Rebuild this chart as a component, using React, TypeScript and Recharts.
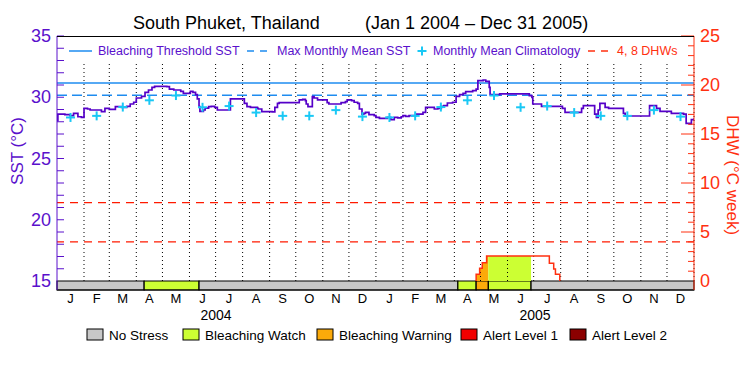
import React from "react";
import {
	Area,
	ComposedChart,
	Line,
	ReferenceArea,
	ReferenceLine,
	XAxis,
	YAxis,
} from "recharts";

const MONTH_LETTERS = ["J", "F", "M", "A", "M", "J", "J", "A", "S", "O", "N", "D"];
// day index (0 = Jan 1 2004) of every month start, last one = Dec 31 2005
const MONTH_STARTS = [
	0, 31, 60, 91, 121, 152, 182, 213, 244, 274, 305, 335, 366, 397, 425, 456, 486, 517, 547, 578,
	609, 639, 670, 700, 731,
];
const YEAR_LABELS = ["2004", "2005"];
const YEAR_LABEL_X = [216, 535];

const BLEACHING_THRESHOLD = 31.16;
const MAX_MONTHLY_MEAN = 30.16;
const DHW_LEVELS = [4, 8];

// monthly mean climatology, Jan..Dec
const CLIMATOLOGY = [28.35, 28.48, 29.2, 29.75, 30.14, 29.18, 29.28, 28.75, 28.48, 28.48, 28.95, 28.42];

// twice-weekly SST (step series)
const SST_DAYS = [
	0, 1, 9, 15, 19, 24, 28, 31, 35, 38, 51, 55, 60, 67, 74, 80, 84, 88, 91, 97, 101, 105, 109, 112,
	126, 129, 134, 142, 145, 153, 156, 159, 161, 163, 164, 168, 170, 174, 177, 181, 184, 199, 215, 218,
	222, 230, 231, 235, 247, 250, 253, 255, 278, 282, 285, 286, 288, 293, 295, 299, 310, 312, 326, 331,
	333, 338, 341, 345, 347, 350, 352, 354, 358, 364, 366, 370, 379, 383, 387, 391, 395, 397, 400, 404,
	412, 420, 423, 433, 437, 441, 444, 448, 454, 458, 462, 466, 469, 477, 481, 483, 489, 492, 496, 497,
	508, 542, 545, 546, 556, 580, 583, 602, 604, 617, 619, 621, 623, 629, 633, 650, 652, 680, 688, 692,
	705, 719, 722, 726, 728, 731,
];
const SST_VALUES = [
	28.1, 28.63, 28.58, 28.5, 28.69, 28.41, 28.36, 29.1, 29.04, 28.96, 28.82, 29.1, 29.01, 29.23, 29.18,
	29.26, 29.45, 29.59, 29.94, 30.07, 30.4, 30.59, 30.81, 30.89, 30.86, 30.67, 30.59, 30.48, 30.32,
	30.48, 30.4, 30.21, 29.86, 29.23, 28.85, 28.96, 29.12, 29.23, 29.26, 29.18, 28.96, 29.86, 29.5,
	29.23, 29.18, 29.1, 29.04, 28.82, 28.8, 29.18, 29.5, 29.56, 29.78, 29.83, 29.72, 29.45, 29.23, 30.05,
	29.94, 29.78, 29.56, 29.45, 29.56, 29.64, 29.78, 29.72, 29.59, 29.5, 29.04, 28.63, 28.69, 28.77,
	28.58, 28.5, 28.36, 28.28, 28.36, 28.17, 28.36, 28.31, 28.41, 28.5, 28.44, 28.5, 28.63, 28.77, 29.18,
	29.04, 29.1, 29.26, 29.31, 29.53, 29.59, 30.07, 30.21, 30.32, 30.46, 30.54, 30.67, 31.35, 31.41,
	31.3, 30.81, 30.21, 30.27, 30.13, 29.99, 29.45, 29.26, 29.1, 28.77, 29.1, 29.31, 28.63, 28.36, 28.96,
	29.5, 29.18, 29.1, 28.69, 28.47, 29.31, 29.1, 28.85, 28.69, 28.63, 27.87, 27.82, 28.17, 28.28,
];

// degree heating weeks (only the non-zero episode)
const DHW_DAYS = [481, 481, 485, 488, 493, 565, 570, 572, 577];
const DHW_VALUES = [0, 0.68, 1.29, 1.87, 2.55, 1.8, 1.22, 0.68, 0];

// stress level bar
const STATUS_STARTS = [0, 100, 163, 460, 481, 495, 544];
const STATUS_ENDS = [100, 163, 460, 481, 495, 544, 731];
const STATUS_LEVELS = [0, 1, 0, 1, 2, 1, 0];

const STATUS_NAMES = ["No Stress", "Bleaching Watch", "Bleaching Warning", "Alert Level 1", "Alert Level 2"];
const STATUS_COLORS = ["#c8c8c8", "#ccff33", "#fbaa0a", "#f20000", "#8b0000"];
const LEGEND_X = [87, 183, 317, 461, 570];

const PURPLE = "#5a10cc";
const BLUE = "#1e8cf0";
const CYAN = "#19c8f5";
const RED = "#ff3010";
const FONT = "'Liberation Sans', Arial, sans-serif";

// axes bottoms extend 9px under SST 15 / DHW 0 to hold the status bar
const SST_MIN = 15 - 9 / 12.25;
const DHW_MIN = -9 / 9.8;

const MONTH_MID = MONTH_STARTS.slice(0, -1).map((d, i) => (d + MONTH_STARTS[i + 1]) / 2);

const sstData = SST_DAYS.map((d, i) => ({ day: d, sst: SST_VALUES[i] }));
const climData = MONTH_MID.map((d, i) => ({ day: d, clim: CLIMATOLOGY[i % 12] }));
const dhwData = DHW_DAYS.map((d, i) => ({ day: d, dhw: DHW_VALUES[i] }));

function dhwAt(day: number) {
	let v = 0;
	DHW_DAYS.forEach((d, i) => {
		if (d <= day) v = DHW_VALUES[i];
	});
	return v;
}

function clipDhw(start: number, end: number) {
	const pts = [{ day: start, dhw: dhwAt(start) }];
	DHW_DAYS.forEach((d, i) => {
		if (d > start && d < end) pts.push({ day: d, dhw: DHW_VALUES[i] });
	});
	pts.push({ day: end, dhw: dhwAt(end) });
	return pts;
}

const SstTick = (props: any) => {
	const { x, y, payload } = props;
	const v = payload.value;
	return (
		<g>
			{v !== 15 && <line x1={x} x2={x + 7} y1={y} y2={y} stroke={PURPLE} />}
			{v % 5 === 0 && (
				<text x={x - 6} y={y + 6} textAnchor="end" fill={PURPLE} fontSize={18} fontFamily={FONT}>
					{v}
				</text>
			)}
		</g>
	);
};

const DhwTick = (props: any) => {
	const { x, y, payload } = props;
	const v = payload.value;
	const major = v % 5 === 0;
	return (
		<g>
			{v !== 0 && <line x1={x} x2={x - (major ? 13 : 6)} y1={y} y2={y} stroke={RED} />}
			{major && (
				<text x={x + 6} y={y + 6} textAnchor="start" fill={RED} fontSize={18} fontFamily={FONT}>
					{v}
				</text>
			)}
		</g>
	);
};

const MonthTick = (props: any) => {
	const { x, y, payload } = props;
	const i = MONTH_MID.indexOf(payload.value);
	return (
		<text x={x} y={y + 13} textAnchor="middle" fill="#000" fontSize={13} fontFamily={FONT}>
			{MONTH_LETTERS[i % 12]}
		</text>
	);
};

const PlusDot = (props: any) => {
	const { cx, cy } = props;
	if (cx == null || cy == null) return null;
	return (
		<g>
			<line x1={cx - 4.5} x2={cx + 4.5} y1={cy} y2={cy} stroke={CYAN} strokeWidth={2} />
			<line x1={cx} x2={cx} y1={cy - 4.5} y2={cy + 4.5} stroke={CYAN} strokeWidth={2} />
		</g>
	);
};

export default function App() {
	const sstTicks = Array.from({ length: 21 }, (_, i) => 15 + i);
	const dhwTicks = Array.from({ length: 26 }, (_, i) => i);

	return (
		<div style={{ position: "fixed", left: 0, top: 0, width: 750, height: 375, background: "#fff" }}>
			<ComposedChart width={750} height={375} margin={{ top: 36, right: 0, bottom: 45, left: 0 }}>
				<XAxis
					dataKey="day"
					type="number"
					domain={[0, 731]}
					ticks={MONTH_MID}
					interval={0}
					tick={<MonthTick />}
					tickLine={false}
					tickSize={0}
					tickMargin={0}
					height={40}
					axisLine={{ stroke: "#000" }}
					allowDataOverflow
				/>
				<YAxis
					yAxisId="sst"
					type="number"
					domain={[SST_MIN, 35]}
					ticks={sstTicks}
					interval={0}
					tick={<SstTick />}
					tickLine={false}
					tickSize={0}
					tickMargin={0}
					width={57}
					axisLine={{ stroke: PURPLE }}
					allowDataOverflow
				/>
				<YAxis
					yAxisId="dhw"
					orientation="right"
					type="number"
					domain={[DHW_MIN, 25]}
					ticks={dhwTicks}
					interval={0}
					tick={<DhwTick />}
					tickLine={false}
					tickSize={0}
					tickMargin={0}
					width={56}
					axisLine={{ stroke: RED }}
					allowDataOverflow
				/>

				{MONTH_STARTS.slice(1).map((d) => (
					<ReferenceLine
						key={`m${d}`}
						yAxisId="sst"
						segment={[
							{ x: d, y: 15 },
							{ x: d, y: 32.8 },
						]}
						stroke="#000"
						strokeDasharray="1 3"
					/>
				))}

				<ReferenceLine yAxisId="sst" y={BLEACHING_THRESHOLD} stroke={BLUE} strokeWidth={1.5} />
				<ReferenceLine yAxisId="sst" y={MAX_MONTHLY_MEAN} stroke={BLUE} strokeWidth={1.5} strokeDasharray="10 5" />
				{DHW_LEVELS.map((l) => (
					<ReferenceLine key={`d${l}`} yAxisId="dhw" y={l} stroke="#ff1a00" strokeWidth={1.2} strokeDasharray="8 6" />
				))}

				{STATUS_STARTS.map((s, i) => (
					<ReferenceArea
						key={`s${i}`}
						yAxisId="sst"
						x1={s}
						x2={STATUS_ENDS[i]}
						y1={SST_MIN}
						y2={15}
						fill={STATUS_COLORS[STATUS_LEVELS[i]]}
						fillOpacity={1}
						stroke="#000"
						strokeWidth={1.2}
					/>
				))}

				{STATUS_STARTS.map((s, i) =>
					STATUS_LEVELS[i] > 0 ? (
						<Area
							key={`a${i}`}
							yAxisId="dhw"
							data={clipDhw(s, STATUS_ENDS[i])}
							dataKey="dhw"
							type="stepAfter"
							baseValue={0}
							fill={STATUS_COLORS[STATUS_LEVELS[i]]}
							fillOpacity={1}
							stroke="none"
							isAnimationActive={false}
						/>
					) : null,
				)}

				<Line
					yAxisId="dhw"
					data={dhwData}
					dataKey="dhw"
					type="stepAfter"
					stroke={RED}
					strokeWidth={1.5}
					dot={false}
					activeDot={false}
					isAnimationActive={false}
				/>

				<Line
					yAxisId="sst"
					data={sstData}
					dataKey="sst"
					type="stepAfter"
					stroke="#5500c8"
					strokeWidth={1.7}
					dot={false}
					activeDot={false}
					isAnimationActive={false}
				/>

				<Line
					yAxisId="sst"
					data={climData}
					dataKey="clim"
					stroke="none"
					dot={(p: any) => <PlusDot key={`c${p.index}`} {...p} />}
					activeDot={false}
					isAnimationActive={false}
				/>
			</ComposedChart>

			<svg
				width={750}
				height={375}
				style={{ position: "absolute", left: 0, top: 0, pointerEvents: "none" }}
				fontFamily={FONT}
			>
				<line x1={57} x2={694} y1={36.5} y2={36.5} stroke="#000" />

				<text x={133} y={29} fontSize={18} fill="#000">
					South Phuket, Thailand
				</text>
				<text x={365} y={29} fontSize={18} fill="#000">
					(Jan 1 2004 – Dec 31 2005)
				</text>

				<line x1={69} x2={92} y1={51} y2={51} stroke={BLUE} strokeWidth={1.5} />
				<text x={98} y={55} fontSize={12.5} fill={PURPLE}>
					Bleaching Threshold SST
				</text>
				<line x1={247} x2={267} y1={51} y2={51} stroke={BLUE} strokeWidth={1.5} strokeDasharray="7 6" />
				<text x={277} y={55} fontSize={12.5} fill={PURPLE}>
					Max Monthly Mean SST
				</text>
				<PlusDot cx={422} cy={51} />
				<text x={433} y={55} fontSize={12.5} fill={PURPLE}>
					Monthly Mean Climatology
				</text>
				<line x1={588} x2={608} y1={51} y2={51} stroke={RED} strokeWidth={1.5} strokeDasharray="7 6" />
				<text x={617} y={55} fontSize={12.5} fill={RED}>
					4, 8 DHWs
				</text>

				{YEAR_LABELS.map((t, i) => (
					<text key={t} x={YEAR_LABEL_X[i]} y={320} textAnchor="middle" fontSize={14} fill="#000">
						{t}
					</text>
				))}

				<text
					transform="translate(23,151) rotate(-90)"
					textAnchor="middle"
					fontSize={17}
					fill={PURPLE}
				>
					SST (°C)
				</text>
				<text
					transform="translate(727,175) rotate(90)"
					textAnchor="middle"
					fontSize={17}
					fill={RED}
				>
					DHW (°C week)
				</text>

				{STATUS_NAMES.map((n, i) => (
					<g key={n}>
						<rect x={LEGEND_X[i]} y={329} width={16} height={11} fill={STATUS_COLORS[i]} stroke="#000" />
						<text x={LEGEND_X[i] + 22} y={340} fontSize={13.5} fill="#000">
							{n}
						</text>
					</g>
				))}
			</svg>
		</div>
	);
}
